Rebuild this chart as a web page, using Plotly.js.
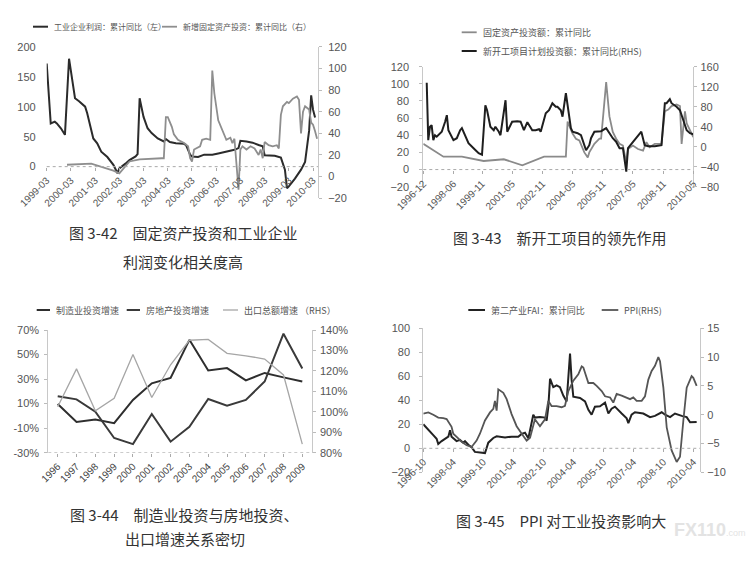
<!DOCTYPE html>
<html><head><meta charset="utf-8">
<script src="https://cdn.plot.ly/plotly-3.0.1.min.js"></script>
<style>html,body{margin:0;padding:0;background:#fff;}#chart{width:747px;height:561px;}</style>
</head><body><div id="chart"></div>
<script>
// ---------- Panel 1 (图3-42) ----------
const p1ProfitDates = ['1999-03','1999-05','1999-07','1999-08','1999-10','1999-12','2000-02','2000-03','2000-04','2000-05','2000-07','2000-10','2000-11','2000-12','2001-02','2001-04','2001-06','2001-09','2001-11','2001-12','2002-02','2002-03','2002-06','2002-08','2002-11','2002-12','2003-01','2003-03','2003-05','2003-07','2003-10','2004-01','2004-02','2004-04','2004-07','2004-11','2004-12','2005-02','2005-03','2005-06','2005-09','2006-01','2006-04','2006-09','2006-12','2007-02','2007-03','2007-06','2007-09','2007-12','2008-02','2008-03','2008-05','2008-08','2008-11','2009-01','2009-02','2009-03','2009-06','2009-09','2009-11','2010-01','2010-02','2010-03','2010-04'];
const p1ProfitValues = [172,72,75,72,64,53,180,161,139,114,109,100,89,75,47,39,25,16,6,3,-11,-3,5,11,17,21,114,83,64,56,47,42,46,41,39,38,36,20,17,16,20,20,22,25,28,31,43,42,40,36,34,19,19,18,15,-5,-36,-33,-20,-5,8,60,119,95,82];
const p1FaiDates = ['2000-01','2001-01','2001-12','2002-03','2002-08','2003-01','2003-12','2004-01','2004-02','2004-03','2004-05','2004-06','2004-08','2004-11','2005-01','2005-02','2005-03','2005-04','2005-07','2005-08','2005-10','2005-12','2006-01','2006-02','2006-04','2006-06','2006-08','2006-10','2006-11','2006-12','2007-02','2007-03','2007-04','2007-06','2007-08','2007-10','2007-12','2008-01','2008-02','2008-03','2008-05','2008-07','2008-09','2008-10','2008-11','2008-12','2009-02','2009-03','2009-05','2009-07','2009-08','2009-09','2009-10','2009-11','2010-01','2010-02','2010-03','2010-04','2010-05'];
const p1FaiValues = [11,12,5.5,3,14,16,17,17,55,55,46,39,34,31,28,17,14,25,28,34,35,34,98,77,52,43,34,36,31,35,-12,25,28,25,28,26,20,25,17,32,29,28,29,26,57,65,69,68,72,74,71,40,60,65,62,50,48,42,35];
const p1Ticks = ['1999-03','2000-03','2001-03','2002-03','2003-03','2004-03','2005-03','2006-03','2007-03','2008-03','2009-03','2010-03'];
const p1Names = ['工业企业利润：累计同比（左）','新增固定资产投资：累计同比（右）'];

// ---------- Panel 2 (图3-43) ----------
const p2NewDates = ['1997-02','1997-03','1997-04','1997-05','1997-06','1997-07','1997-08','1997-10','1997-11','1998-01','1998-02','1998-03','1998-06','1998-08','1998-10','1998-11','1999-01','1999-03','1999-06','1999-09','1999-11','2000-01','2000-02','2000-04','2000-06','2000-07','2000-09','2000-10','2001-01','2001-02','2001-05','2001-08','2001-10','2001-12','2002-02','2002-04','2002-05','2002-07','2002-09','2002-10','2003-01','2003-03','2003-05','2003-07','2003-08','2003-10','2003-11','2004-01','2004-02','2004-04','2004-05','2004-08','2004-10','2005-01','2005-03','2005-04','2005-06','2005-09','2005-10','2006-01','2006-03','2006-05','2006-07','2006-09','2006-11','2007-01','2007-02','2007-05','2007-08','2007-10','2007-12','2008-02','2008-06','2008-09','2008-10','2008-12','2009-01','2009-03','2009-04','2009-07','2009-09','2009-11','2010-01','2010-03','2010-05'];
const p2NewValues = [128,13,40,43,13,23,20,27,30,50,63,33,13,17,33,37,20,7,-3,-13,-16,83,73,40,33,40,30,23,93,30,50,51,50,33,49,40,33,33,35,30,67,73,87,80,80,73,60,107,80,37,30,27,23,-7,3,17,30,30,31,37,27,17,10,-3,-3,-50,-3,10,23,30,3,1,1,3,3,87,87,95,87,80,73,53,33,27,25];
const p2FaiDates = ['1996-12','1997-12','1998-11','1999-12','2000-12','2001-11','2002-12','2004-01','2004-02','2004-03','2004-05','2004-07','2004-09','2004-12','2005-02','2005-03','2005-06','2005-09','2005-10','2005-11','2006-01','2006-03','2006-05','2006-07','2006-09','2006-11','2007-01','2007-02','2007-05','2007-08','2007-11','2008-01','2008-03','2008-06','2008-10','2008-12','2009-02','2009-04','2009-07','2009-09','2009-10','2009-12','2010-01','2010-03','2010-05'];
const p2FaiValues = [30,15,15,10,12,5,15,15,56,52,42,36,34,20,14,20,30,36,36,58,102,62,44,36,30,28,8,24,28,24,22,32,26,30,30,68,70,74,76,74,30,68,54,46,38];
const p2Ticks = ['1996-12','1998-06','1999-11','2001-05','2002-11','2004-05','2005-11','2007-05','2008-11','2010-05'];
const p2Names = ['固定资产投资额：累计同比','新开工项目计划投资额：累计同比(RHS)'];

// ---------- Panel 3 (图3-44) ----------
const p3Years = [1996,1997,1998,1999,2000,2001,2002,2003,2004,2005,2006,2007,2008,2009];
const p3Mfg = [9.7,-5,-3,-6,13,26.5,31,62,37,39,29,35,31.4,28];
const p3RealEstate = [16,13.5,3.4,-18,-23,1.5,-21,-8.8,13.8,8.3,13,28,67,38.7];
const p3Export = [102.5,121,100.5,106.6,128,107,123,135,135.4,128.6,127.4,125.8,118,84.2];
const p3LeftTicks = [-30,-10,10,30,50,70];
const p3RightTicks = [80,90,100,110,120,130,140];
const p3Names = ['制造业投资增速','房地产投资增速','出口总额增速 （RHS）'];

// ---------- Panel 4 (图3-45) ----------
const p4FaiDates = ['1996-10','1997-01','1997-04','1997-06','1997-07','1997-09','1997-11','1998-01','1998-02','1998-03','1998-06','1998-08','1998-10','1998-11','1999-01','1999-03','1999-05','1999-08','1999-11','2000-01','2000-02','2000-04','2000-06','2000-11','2001-03','2001-07','2001-09','2001-11','2002-01','2002-03','2002-04','2002-05','2002-08','2002-11','2002-12','2003-01','2003-02','2003-04','2003-06','2003-08','2003-10','2003-12','2004-02','2004-03','2004-04','2004-08','2004-11','2005-01','2005-03','2005-05','2005-08','2005-11','2006-01','2006-03','2006-05','2006-09','2006-12','2007-01','2007-03','2007-05','2007-10','2008-02','2008-05','2008-09','2008-11','2009-02','2009-05','2009-09','2009-12','2010-02','2010-06'];
const p4FaiValues = [20,15,11,8,3.6,6,8,9.7,15,9.7,6,7,4.7,6,3,1,-3,-3.3,-4,4.7,6,8.6,10,9,9.7,9.7,12,13,8.3,21,28,25.6,26,25.6,23,34.7,58,51,52.5,51,44,39,79,57,43,42,39,32,28,34.7,35,38,29,33,34.7,29,25,21,28,30,29,26,27,30,28,26,29,27,26,21.7,22];
const p4PpiDates = ['1996-10','1997-01','1997-04','1997-07','1997-10','1997-12','1998-03','1998-04','1998-07','1998-09','1998-12','1999-03','1999-06','1999-08','1999-11','2000-02','2000-04','2000-05','2000-06','2000-07','2000-10','2000-12','2001-03','2001-06','2001-10','2001-12','2002-02','2002-05','2002-08','2002-11','2003-01','2003-03','2003-06','2003-09','2003-11','2004-01','2004-04','2004-07','2004-09','2004-10','2005-01','2005-04','2005-06','2005-09','2005-11','2006-02','2006-04','2006-06','2006-09','2006-12','2007-02','2007-04','2007-06','2007-09','2007-11','2008-01','2008-03','2008-05','2008-07','2008-08','2008-10','2008-12','2009-03','2009-06','2009-08','2009-10','2009-12','2010-03','2010-04','2010-06'];
const p4PpiValues = [0.2,0.4,0,-0.5,-0.6,-0.75,-2.1,-3.3,-4.1,-4.7,-5.3,-5.6,-4.5,-3.3,-1,0.4,1,2.4,0.7,4.4,3.8,2.7,0.1,-2,-3.7,-4.5,-4,-0.8,-2,-0.8,2.4,1.5,1.5,1.3,1.55,4.1,5.9,7,8.4,8.2,5.5,5.5,5,4.1,3.2,3,2.1,3.6,3.3,3,2.7,3,2.4,2.4,3.2,6.1,7.6,8.5,10,9.3,4.7,-2.2,-6.2,-8.2,-7.3,-1,4.7,6.7,6.4,5];
const p4Names = ['第二产业FAI：累计同比','PPI(RHS)'];

// ---------- captions ----------
const captions = ['图 3-42\u3000固定资产投资和工业企业','利润变化相关度高','图 3-43\u3000新开工项目的领先作用','图 3-44\u3000制造业投资与房地投资、','出口增速关系密切','图 3-45\u3000PPI 对工业投资影响大'];
const watermark = '<b>FX110</b><span style="font-size:9px">.com</span>';

// ---------- helpers ----------
const W = 747, H = 561;
const px = x => x / W;
const py = y => 1 - y / H;
const tickFont = {family: 'Liberation Sans, Arial, sans-serif', size: 11, color: '#555'};
const xFont = {family: 'Liberation Sans, Arial, sans-serif', size: 10, color: '#555'};
const capFont = {family: 'Noto Sans CJK SC, sans-serif', size: 15, color: '#333'};
const d = s => s + '-01';
const pct = v => v + '%';

const traces = [
  {x: p1ProfitDates.map(d), y: p1ProfitValues, xaxis: 'x', yaxis: 'y', name: p1Names[0], mode: 'lines', line: {color: '#2b2b2b', width: 2}},
  {x: p1FaiDates.map(d), y: p1FaiValues, xaxis: 'x', yaxis: 'y2', name: p1Names[1], mode: 'lines', line: {color: '#8e8e8e', width: 1.8}},
  {x: p2FaiDates.map(d), y: p2FaiValues, xaxis: 'x2', yaxis: 'y3', name: p2Names[0], mode: 'lines', line: {color: '#8a8a8a', width: 1.8}},
  {x: p2NewDates.map(d), y: p2NewValues, xaxis: 'x2', yaxis: 'y4', name: p2Names[1], mode: 'lines', line: {color: '#1e1e1e', width: 2}},
  {x: p3Years, y: p3Mfg, xaxis: 'x3', yaxis: 'y5', name: p3Names[0], mode: 'lines', line: {color: '#2e2e2e', width: 2}},
  {x: p3Years, y: p3RealEstate, xaxis: 'x3', yaxis: 'y5', name: p3Names[1], mode: 'lines', line: {color: '#3a3a3a', width: 2}},
  {x: p3Years, y: p3Export, xaxis: 'x3', yaxis: 'y6', name: p3Names[2], mode: 'lines', line: {color: '#a6a6a6', width: 1.3}},
  {x: p4FaiDates.map(d), y: p4FaiValues, xaxis: 'x4', yaxis: 'y7', name: p4Names[0], mode: 'lines', line: {color: '#222', width: 2}},
  {x: p4PpiDates.map(d), y: p4PpiValues, xaxis: 'x4', yaxis: 'y8', name: p4Names[1], mode: 'lines', line: {color: '#555', width: 1.8}}
];

const yBase = {showgrid: false, zeroline: false, tickfont: tickFont, ticks: 'outside', ticklen: 3, tickcolor: '#bbb', showline: true, linecolor: '#c8c8c8', linewidth: 1};
const xBase = {showgrid: false, zeroline: false, tickfont: xFont, tickangle: -45, ticks: 'outside', ticklen: 3, tickcolor: '#aaa', showline: false};

const layout = {
  width: W, height: H, margin: {l: 0, r: 0, t: 0, b: 0},
  paper_bgcolor: '#fff', plot_bgcolor: 'rgba(0,0,0,0)', showlegend: false,
  xaxis: Object.assign({}, xBase, {domain: [px(46.7), px(318)], anchor: 'free', position: py(166.7), type: 'date', range: ['1999-03-01', '2010-05-15'], tickvals: p1Ticks.map(d), tickformat: '%Y-%m'}),
  yaxis: Object.assign({}, yBase, {domain: [py(198.3), py(46.7)], anchor: 'x', range: [-52.8, 200], tickvals: [0, 50, 100, 150, 200], showline: false, ticks: '', ticklabelstandoff: 10}),
  yaxis2: Object.assign({}, yBase, {overlaying: 'y', side: 'right', anchor: 'x', range: [-20, 120], dtick: 20, ticklabelstandoff: 4}),
  xaxis2: Object.assign({}, xBase, {domain: [px(423.3), px(693.3)], anchor: 'free', position: py(170), type: 'date', range: ['1996-12-01', '2010-05-01'], tickvals: p2Ticks.map(d), tickformat: '%Y-%m'}),
  yaxis3: Object.assign({}, yBase, {domain: [py(186.7), py(66.7)], anchor: 'x2', range: [-20, 120], dtick: 20, ticklabelstandoff: 8}),
  yaxis4: Object.assign({}, yBase, {overlaying: 'y3', side: 'right', anchor: 'x2', range: [-80, 160], dtick: 40, ticklabelstandoff: 1}),
  xaxis3: Object.assign({}, xBase, {domain: [px(48.3), px(311.7)], anchor: 'y5', range: [1995.5, 2009.5], tickvals: p3Years, tickfont: {family: 'Liberation Sans, Arial, sans-serif', size: 10, color: '#444'}}),
  yaxis5: Object.assign({}, yBase, {domain: [py(452.7), py(330)], anchor: 'x3', range: [-30, 70], tickvals: p3LeftTicks, ticktext: p3LeftTicks.map(pct), ticklabelstandoff: 3}),
  yaxis6: Object.assign({}, yBase, {overlaying: 'y5', side: 'right', anchor: 'x3', range: [80, 140], tickvals: p3RightTicks, ticktext: p3RightTicks.map(pct), ticklabelstandoff: 2}),
  xaxis4: Object.assign({}, xBase, {domain: [px(423.3), px(700)], anchor: 'free', position: py(448.3), type: 'date', range: ['1996-10-01', '2010-08-01'], tick0: '1996-10-01', dtick: 'M18', tickformat: '%Y-%m'}),
  yaxis7: Object.assign({}, yBase, {domain: [py(472.3), py(328.3)], anchor: 'x4', range: [-20, 100], dtick: 20, ticklabelstandoff: 7}),
  yaxis8: Object.assign({}, yBase, {overlaying: 'y7', side: 'right', anchor: 'x4', range: [-10, 15], dtick: 5, ticklabelstandoff: 1}),
  shapes: [],
  annotations: []
};

// dotted zero / base lines
[['x', 'y', 0], ['x2', 'y3', 0], ['x3', 'y5', -30], ['x4', 'y7', 0]].forEach(([xa, ya, v]) => {
  layout.shapes.push({type: 'line', xref: xa + ' domain', yref: ya, x0: 0, x1: 1, y0: v, y1: v, line: {color: '#aaa', width: 1, dash: 'dot'}});
});

// manual legends (line sample + text)
function legendItem(x0, x1, y, color, width, text, fs) {
  layout.shapes.push({type: 'line', xref: 'paper', yref: 'paper', x0: px(x0), x1: px(x1), y0: py(y), y1: py(y), line: {color: color, width: width}});
  layout.annotations.push({xref: 'paper', yref: 'paper', x: px(x1 + 4), y: py(y), xanchor: 'left', yanchor: 'middle', text: text, showarrow: false, font: {family: 'Noto Sans CJK SC, sans-serif', size: fs, color: '#555'}});
}
legendItem(33, 48, 26.7, '#2b2b2b', 2, p1Names[0], 8);
legendItem(162, 177, 26.7, '#8e8e8e', 1.8, p1Names[1], 8);
legendItem(461.7, 476.7, 32.3, '#8a8a8a', 1.8, p2Names[0], 9);
legendItem(461.7, 476.7, 51, '#1e1e1e', 2, p2Names[1], 9);
legendItem(36.7, 50, 310, '#2e2e2e', 2, p3Names[0], 9);
legendItem(126.7, 140, 310, '#3a3a3a', 2, p3Names[1], 9);
legendItem(223, 238, 310, '#a6a6a6', 1.3, p3Names[2], 9);
legendItem(468.3, 485, 310, '#222', 2, p4Names[0], 9);
legendItem(601.7, 618.3, 310, '#555', 1.8, p4Names[1], 9);

// captions
[[183, 232, 0], [183, 261, 1], [560, 237, 2], [184, 514, 3], [185, 538, 4], [561, 520, 5]].forEach(([cx, cy, i]) => {
  layout.annotations.push({xref: 'paper', yref: 'paper', x: px(cx), y: py(cy), xanchor: 'center', yanchor: 'middle', text: captions[i], showarrow: false, font: capFont});
});

// watermark (single text block)
layout.annotations.push({xref: 'paper', yref: 'paper', x: px(672), y: py(530), xanchor: 'left', yanchor: 'middle', text: watermark, showarrow: false, font: {family: 'Liberation Sans, sans-serif', size: 18, color: '#e3e3e3'}});

Plotly.newPlot('chart', traces, layout, {staticPlot: true, displayModeBar: false});
</script>
</body></html>
